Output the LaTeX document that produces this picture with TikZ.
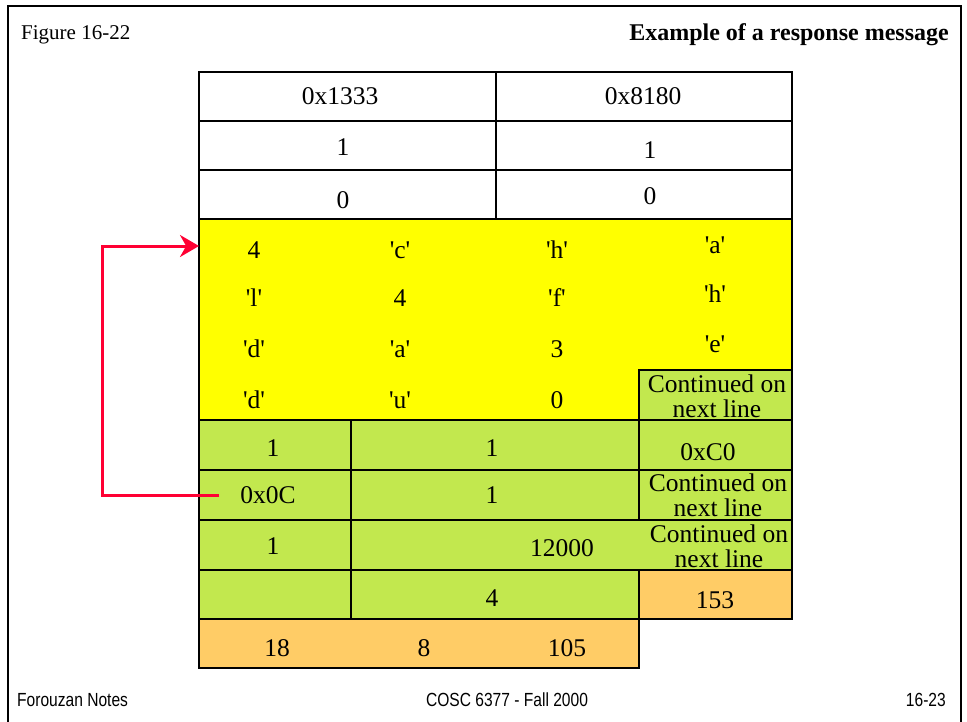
\documentclass[tikz,border=0pt]{standalone}
\usepackage{fontspec}
\setmainfont{Liberation Serif}
\newfontfamily\footfont[FakeStretch=0.82]{Liberation Sans}
\usetikzlibrary{arrows.meta}
\definecolor{cellyellow}{HTML}{FFFF00}
\definecolor{cellgreen}{HTML}{C2E84E}
\definecolor{cellorange}{HTML}{FFCC66}
\definecolor{arrowred}{HTML}{FF0033}
\newcommand\qq[1]{\textquotesingle#1\textquotesingle}
\newcommand\cellrect[6]{\node[cellbox, fill=#6, minimum width={(#4-#2)*1pt}, minimum height={(#5-#3)*1pt}] (#1) at ({(#2+#4)/2},{(#3+#5)/2}) {};}
\tikzset{
  cellbox/.style={draw=black, line width=1.2pt, inner sep=0pt, outer sep=0pt},
  txt/.style={font=\fontsize{25.5}{25}\selectfont, inner sep=0pt, align=center},
  foot/.style={font=\footfont\fontsize{19}{19}\selectfont, inner sep=0pt},
  redarrow/.style={draw=arrowred, line width=3pt, -{Stealth[length=19pt,width=22pt]}}
}
\begin{document}
\begin{tikzpicture}[x=1pt,y=-1pt]
\useasboundingbox (0,0) rectangle (967,721);
\fill[white] (0,0) rectangle (967,721);
\draw[line width=2.5pt] (8,6) rectangle (961,760);

% header / footer
\node[anchor=west, inner sep=0pt, font=\fontsize{21}{21}\selectfont] (fig) at (21,35) {Figure 16-22};
\node[anchor=east, inner sep=0pt, font=\bfseries\fontsize{24}{24}\selectfont] (title) at (949,35) {Example of a response message};
\node[foot, anchor=west] (fnotes) at (17,700) {Forouzan Notes};
\node[foot] (course) at (507,700) {COSC 6377 - Fall 2000};
\node[foot, anchor=east] (pg) at (946,700) {16-23};

% top white table
\cellrect{h11}{199}{72}{496}{121}{white}
\cellrect{h12}{496}{72}{792}{121}{white}
\cellrect{h21}{199}{121}{496}{170}{white}
\cellrect{h22}{496}{121}{792}{170}{white}
\cellrect{h31}{199}{170}{496}{219}{white}
\cellrect{h32}{496}{170}{792}{219}{white}

% yellow question block
\cellrect{yellow}{199}{219}{792}{420}{cellyellow}
\cellrect{ycont}{639}{370}{792}{420}{cellgreen}

% green answer rows
\cellrect{g11}{199}{420}{351}{470}{cellgreen}
\cellrect{g12}{351}{420}{639}{470}{cellgreen}
\cellrect{g13}{639}{420}{792}{470}{cellgreen}
\cellrect{g21}{199}{470}{351}{520}{cellgreen}
\cellrect{g22}{351}{470}{639}{520}{cellgreen}
\cellrect{g23}{639}{470}{792}{520}{cellgreen}
\cellrect{g31}{199}{520}{351}{570}{cellgreen}
\cellrect{g32}{351}{520}{792}{570}{cellgreen}
\cellrect{g41}{199}{570}{351}{619}{cellgreen}
\cellrect{g42}{351}{570}{639}{619}{cellgreen}
\cellrect{o43}{639}{570}{792}{619}{cellorange}
\cellrect{o51}{199}{619}{639}{668}{cellorange}

% texts: header table
\node[txt] (t11) at (340,96) {0x1333};
\node[txt] (t12) at (643,96) {0x8180};
\node[txt] (t21) at (343,147) {1};
\node[txt] (t22) at (650,150) {1};
\node[txt] (t31) at (343,200) {0};
\node[txt] (t32) at (650,196) {0};

% yellow texts
\node[txt] (y11) at (254,250) {4};
\node[txt] (y12) at (400,250) {\qq{c}};
\node[txt] (y13) at (557,250) {\qq{h}};
\node[txt] (y14) at (715,245) {\qq{a}};
\node[txt] (y21) at (254,298) {\qq{l}};
\node[txt] (y22) at (400,298) {4};
\node[txt] (y23) at (557,298) {\qq{f}};
\node[txt] (y24) at (715,294) {\qq{h}};
\node[txt] (y31) at (254,349) {\qq{d}};
\node[txt] (y32) at (400,349) {\qq{a}};
\node[txt] (y33) at (557,349) {3};
\node[txt] (y34) at (715,344) {\qq{e}};
\node[txt] (y41) at (254,400) {\qq{d}};
\node[txt] (y42) at (400,400) {\qq{u}};
\node[txt] (y43) at (557,400) {0};
\node[txt] (y44) at (717,396) {Continued on\\next line};

% green texts
\node[txt] (a11) at (273,448) {1};
\node[txt] (a12) at (492,448) {1};
\node[txt] (a13) at (708,452) {0xC0};
\node[txt] (ox0c) at (268,495) {0x0C};
\node[txt] (a22) at (492,495) {1};
\node[txt] (a23) at (718,495) {Continued on\\next line};
\node[txt] (a31) at (273,546) {1};
\node[txt] (a32) at (562,548) {12000};
\node[txt] (a33) at (719,546) {Continued on\\next line};
\node[txt] (a42) at (492,598) {4};
\node[txt] (a43) at (715,600) {153};
\node[txt] (a51) at (277,648) {18};
\node[txt] (a52) at (424,648) {8};
\node[txt] (a53) at (567,648) {105};

% pointer arrow
\draw[redarrow] ([xshift=-21pt]ox0c.west) -- ++(-117,0) |- ([yshift=-27pt]yellow.north west);
\end{tikzpicture}
\end{document}
